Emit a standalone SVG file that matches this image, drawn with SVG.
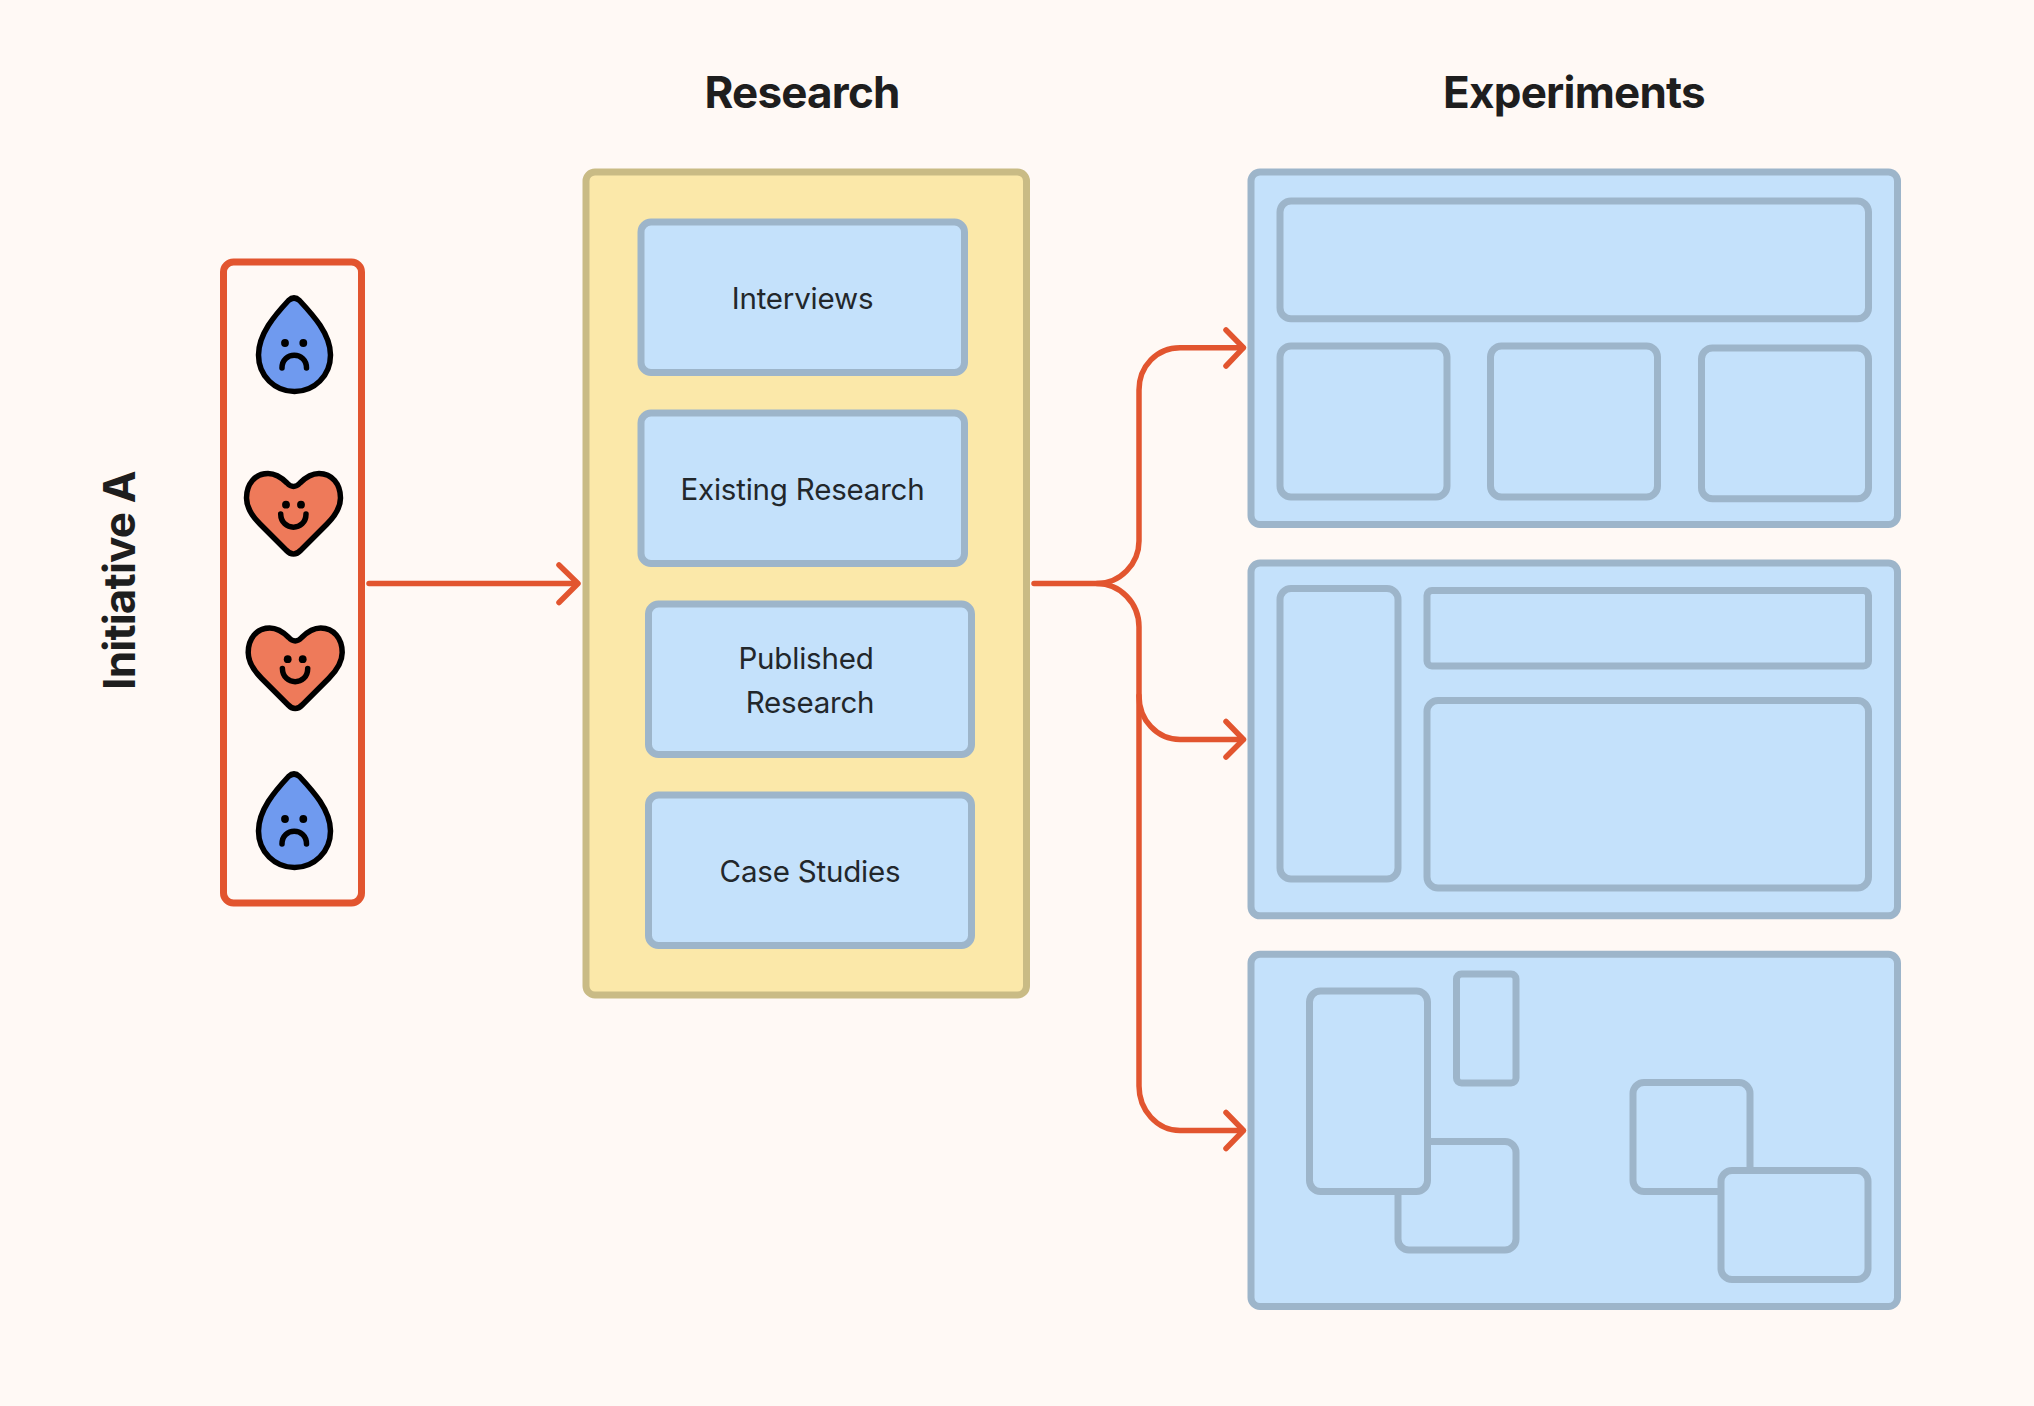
<svg xmlns="http://www.w3.org/2000/svg" xmlns:xlink="http://www.w3.org/1999/xlink" width="2034" height="1406" viewBox="0 0 2034 1406">
<style>
.b{fill:#C4E1FB;stroke:#9DB5CA;stroke-width:7}
.t{font-family:Inter,"Liberation Sans",sans-serif;font-size:29.5px;letter-spacing:-0.2px;fill:#22272B;text-anchor:middle}
.h{font-family:Inter,"Liberation Sans",sans-serif;font-size:44px;letter-spacing:-0.8px;font-weight:700;fill:#1E1E1E;text-anchor:middle}
.c{fill:none;stroke:#E2552F;stroke-width:5.5;stroke-linecap:round;stroke-linejoin:round}
.f{fill:none;stroke:#000;stroke-width:5.5;stroke-linecap:round}
.o{stroke:#000;stroke-width:5.5;stroke-linejoin:round}
</style>
<defs>
<g id="drop">
<path class="o" fill="#6F9AEF" d="M288.5 300.5Q294 295.5 299.5 300.5C313 315 330.5 334 330.5 355C330.5 376 314 391.5 294.5 391.5C275 391.5 258.5 376 258.5 355C258.5 334 275 315 288.5 300.5Z"/>
<circle cx="285" cy="343" r="3.9"/><circle cx="303.3" cy="343" r="3.9"/>
<path class="f" d="M282 368C282 351 306.5 351 306.5 368"/>
</g>
<g id="heart">
<path class="o" fill="#EE7A5A" d="M287 483Q293.5 490 300 483C306 477 312 473.5 319 473.5C332 473.5 340.5 484 340.5 498C340.5 509 334 517 327 524L301 550Q293.5 558 286 550L260 524C253 517 246.5 509 246.5 498C246.5 484 255 473.5 268 473.5C275 473.5 281 477 287 483Z"/>
<circle cx="286" cy="504.7" r="3.9"/><circle cx="301" cy="504.7" r="3.9"/>
<path class="f" d="M280.7 514C281 531.5 306 531.5 306 514"/>
</g>
</defs>
<rect width="2034" height="1406" fill="#FFF9F5"/>

<g id="label-initiative"><text class="h" transform="translate(135 580.5) rotate(-90)">Initiative A</text></g>
<g id="label-research"><text class="h" x="802" y="108">Research</text></g>
<g id="label-experiments"><text class="h" x="1574" y="108">Experiments</text></g>

<g id="initiative">
<rect x="223.5" y="262" width="138" height="641" rx="10" fill="none" stroke="#E2552F" stroke-width="7"/>
<use xlink:href="#drop" href="#drop"/>
<use xlink:href="#heart" href="#heart"/>
<use xlink:href="#heart" href="#heart" transform="translate(1.7 154.5)"/>
<use xlink:href="#drop" href="#drop" transform="translate(0 476)"/>
</g>

<g id="research">
<rect x="586" y="172" width="440.5" height="823" rx="9" fill="#FBE8A9" stroke="#C9BB85" stroke-width="7"/>
</g>
<g id="interviews"><rect class="b" x="641" y="222" width="323.5" height="150.5" rx="10"/><text class="t" x="802.5" y="309">Interviews</text></g>
<g id="existing-research"><rect class="b" x="641" y="413" width="323.5" height="150.5" rx="10"/><text class="t" x="802.5" y="500">Existing Research</text></g>
<g id="published-research"><rect class="b" x="648.5" y="604" width="323" height="150.5" rx="10"/><text class="t" x="806" y="669">Published</text><text class="t" x="810" y="713">Research</text></g>
<g id="case-studies"><rect class="b" x="648.5" y="795" width="323" height="150.5" rx="10"/><text class="t" x="810" y="882">Case Studies</text></g>

<g id="experiment-1">
<rect class="b" x="1251" y="172" width="646.5" height="352.5" rx="9"/>
<rect class="b" x="1280" y="201" width="588.5" height="117.8" rx="11"/>
<rect class="b" x="1280" y="346" width="167" height="151" rx="11"/>
<rect class="b" x="1490.5" y="346" width="167" height="151" rx="11"/>
<rect class="b" x="1701.5" y="348" width="167" height="150.8" rx="11"/>
</g>
<g id="experiment-2">
<rect class="b" x="1251" y="563" width="646.5" height="352.8" rx="9"/>
<rect class="b" x="1280" y="588.5" width="118" height="290.5" rx="11"/>
<rect class="b" x="1427" y="590.5" width="441.5" height="75.5" rx="5"/>
<rect class="b" x="1427" y="700.5" width="441.5" height="187.5" rx="11"/>
</g>
<g id="experiment-3">
<rect class="b" x="1251" y="954.3" width="646.5" height="352.2" rx="9"/>
<rect class="b" x="1398" y="1141.5" width="118" height="108.5" rx="11"/>
<rect class="b" x="1309.5" y="991" width="118" height="200.5" rx="11"/>
<rect class="b" x="1456.5" y="974" width="59.5" height="109" rx="5"/>
<rect class="b" x="1633" y="1082.5" width="117" height="109" rx="11"/>
<rect class="b" x="1721" y="1170.5" width="147" height="109" rx="11"/>
</g>

<g id="connectors" class="c">
<path d="M369 583.5H577"/>
<path d="M559 565L578 583.5L559 602.5"/>
<path d="M1034 583.5H1097C1120 583.5 1139 564 1139 541V390C1139 366 1157 347.7 1180 347.7H1243"/>
<path d="M1226 330L1243.5 347.7L1226 366"/>
<path d="M1097 583.5C1120 583.5 1139 603 1139 627V1086C1139 1110 1157 1130.5 1180 1130.5H1243"/>
<path d="M1139 695.7C1139 720 1157 739.5 1180 739.5H1243"/>
<path d="M1226 721.5L1243.5 739.5L1226 757"/>
<path d="M1226 1112.5L1243.5 1130.5L1226 1148.5"/>
</g>
</svg>
